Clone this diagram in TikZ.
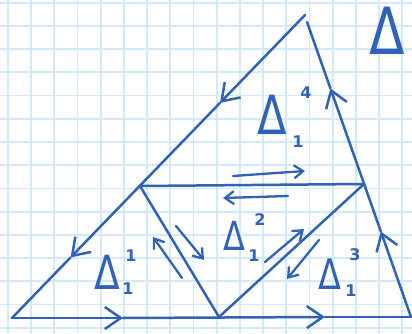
\documentclass[tikz,border=0pt]{standalone}
\usepackage{fontspec}
\setmainfont{DejaVu Sans}
\usetikzlibrary{arrows.meta,calc}
\definecolor{ink}{HTML}{2F62B8}
\definecolor{gridc}{HTML}{D2EAFA}
\begin{document}
\begin{tikzpicture}[x=1pt,y=-1pt,
  edge/.style={draw=ink, line width=2.5pt, line cap=round},
  tipb/.style={-{Straight Barb[length=16pt,width=22pt,line width=2.5pt]}},
  flow/.style={draw=ink, line width=2.3pt, line cap=round, -{Straight Barb[length=9pt,width=13pt,line width=2.3pt]}},
  dl/.style={text=ink, inner sep=0pt, xscale=0.8},
  idx/.style={text=ink, inner sep=0pt, font=\bfseries\fontsize{16}{16}\selectfont}]
\useasboundingbox (0,0) rectangle (412,334);
\fill[white] (0,0) rectangle (412,334);
\foreach \i in {0,...,17} \draw[gridc, line width=1.8pt] ({7.8+23.2*\i},0) -- ({7.8+23.2*\i},334);
\foreach \j in {0,...,14} \draw[gridc, line width=1.8pt] (0,{2.8+23.2*\j}) -- (412,{2.8+23.2*\j});
% vertices
\coordinate (T1) at (305,15);
\coordinate (T2) at (307,22);
\coordinate (BL) at (12,318);
\coordinate (BR) at (411,317);
\coordinate (BM) at (219,317);
\coordinate (ML) at (140,186);
\coordinate (MR) at (364,184);
% arrow points on edges
\coordinate (a1) at ($(T1)!0.29!(BL)$);
\coordinate (a2) at ($(T1)!0.80!(BL)$);
\coordinate (b1) at (123,318);
\coordinate (b2) at (325,317);
\coordinate (c1) at ($(BR)!0.29!(T2)$);
\coordinate (c2) at ($(BR)!0.775!(T2)$);
% outer edges
\draw[edge,tipb] (T1) -- (a1);
\draw[edge,tipb] (a1) -- (a2);
\draw[edge] (a2) -- (BL);
\draw[edge,tipb] (BL) -- (b1);
\draw[edge,tipb] (b1) -- (b2);
\draw[edge] (b2) -- (BR);
\draw[edge,tipb] (BR) -- (c1);
\draw[edge,tipb] (c1) -- (c2);
\draw[edge] (c2) -- (T2);
% inner edges
\draw[edge] (ML) -- (MR);
\draw[edge] (ML) -- (BM);
\draw[edge] (MR) -- (BM);
% free arrows
\coordinate (h1s) at (233,176); \coordinate (h1e) at (305,171);
\coordinate (h2s) at (288,196); \coordinate (h2e) at (223,198);
\coordinate (l1s) at (176,226); \coordinate (l1e) at (204,260);
\coordinate (l2s) at (182,278); \coordinate (l2e) at (153,237);
\coordinate (r1s) at (265,262); \coordinate (r1e) at (304,229);
\coordinate (r2s) at (319,240); \coordinate (r2e) at (287,279);
\draw[flow] (h1s) -- (h1e);
\draw[flow] (h2s) -- (h2e);
\draw[flow] (l1s) -- (l1e);
\draw[flow] (l2s) -- (l2e);
\draw[flow] (r1s) -- (r1e);
\draw[flow] (r2s) -- (r2e);
% labels
\node[dl, font=\fontsize{65}{65}\selectfont] (D) at (387,31) {Δ};
\node[dl, font=\fontsize{54}{54}\selectfont] (D4) at (272,115) {Δ};
\node[idx] (D4s) at (306,93) {4};
\node[idx] (D4i) at (298,142) {1};
\node[dl, font=\fontsize{47}{47}\selectfont] (D1) at (107,272) {Δ};
\node[idx] (D1s) at (131,256) {1};
\node[idx] (D1i) at (128,289) {1};
\node[dl, font=\fontsize{40}{40}\selectfont] (D2) at (234,236) {Δ};
\node[idx] (D2s) at (260,220) {2};
\node[idx] (D2i) at (254,256) {1};
\node[dl, font=\fontsize{42}{42}\selectfont] (D3) at (330,274) {Δ};
\node[idx] (D3s) at (355,255) {3};
\node[idx] (D3i) at (351,291) {1};
\end{tikzpicture}
\end{document}
